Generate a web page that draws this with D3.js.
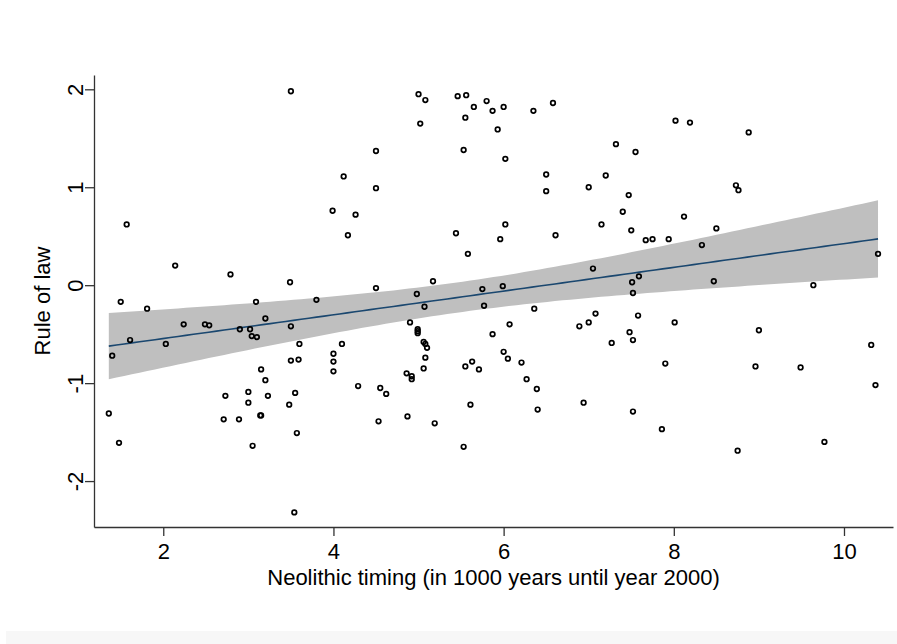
<!DOCTYPE html>
<html>
<head>
<meta charset="utf-8">
<script src="https://cdn.jsdelivr.net/npm/d3@7"></script>
<style>
  body { margin: 0; background: #fff; }
  svg text { font-family: "Liberation Sans", Arial, Helvetica, sans-serif; fill: #000; }
</style>
</head>
<body>
<svg id="chart"></svg>
<script>
// neolithic timing (1000 years before 2000) and rule of law
const neolithicTiming = [
  3.50, 1.57, 2.14, 2.79, 3.49, 5.00, 5.08, 5.46, 5.56, 5.65,
  5.80, 5.87, 6.00, 6.35, 6.58, 5.02, 5.55, 5.93, 4.50, 5.53,
  6.02, 4.12, 4.50, 6.50, 6.50, 3.99, 4.26, 4.17, 5.44, 6.02,
  5.96, 6.61, 5.58, 4.50, 5.17, 4.98, 5.75, 5.99, 8.02, 8.19,
  8.88, 7.32, 7.55, 7.20, 7.00, 7.47, 8.73, 8.76, 7.40, 7.15,
  7.50, 8.12, 8.50, 7.67, 7.75, 7.94, 8.33, 7.05, 7.59, 7.51,
  7.52, 8.47, 9.64, 10.40, 1.50, 1.81, 3.09, 3.80, 2.24, 2.49,
  2.54, 3.20, 3.50, 1.61, 2.03, 2.90, 3.02, 3.04, 3.10, 1.40,
  3.60, 3.50, 3.59, 3.15, 3.20, 2.73, 3.00, 3.00, 3.23, 3.55,
  3.48, 1.36, 2.71, 2.89, 3.14, 3.15, 1.48, 3.57, 3.05, 3.54,
  5.07, 5.77, 4.90, 4.99, 4.99, 4.99, 6.36, 6.07, 5.87, 5.06,
  5.08, 5.10, 5.08, 5.06, 4.10, 4.00, 4.00, 4.00, 6.00, 6.05,
  6.21, 5.63, 5.55, 5.71, 4.86, 4.92, 4.92, 6.27, 6.39, 6.40,
  4.29, 4.55, 4.62, 5.61, 4.53, 4.87, 5.19, 5.53, 7.08, 7.00,
  6.89, 7.58, 8.01, 7.48, 7.52, 7.27, 9.00, 7.90, 8.96, 9.49,
  10.32, 10.37, 6.94, 7.52, 7.86, 8.75, 9.77
];
const ruleOfLaw = [
  1.98, 0.62, 0.20, 0.11, 0.03, 1.95, 1.89, 1.93, 1.94, 1.82,
  1.88, 1.78, 1.82, 1.78, 1.86, 1.65, 1.71, 1.59, 1.37, 1.38,
  1.29, 1.11, 0.99, 1.13, 0.96, 0.76, 0.72, 0.51, 0.53, 0.62,
  0.47, 0.51, 0.32, -0.03, 0.04, -0.09, -0.04, -0.01, 1.68, 1.66,
  1.56, 1.44, 1.36, 1.12, 1.00, 0.92, 1.02, 0.97, 0.75, 0.62,
  0.56, 0.70, 0.58, 0.46, 0.47, 0.47, 0.41, 0.17, 0.09, 0.03,
  -0.08, 0.04, 0.00, 0.32, -0.17, -0.24, -0.17, -0.15, -0.40, -0.40,
  -0.41, -0.34, -0.42, -0.56, -0.60, -0.45, -0.45, -0.52, -0.53, -0.72,
  -0.60, -0.77, -0.76, -0.86, -0.97, -1.13, -1.09, -1.20, -1.13, -1.10,
  -1.22, -1.31, -1.37, -1.37, -1.33, -1.33, -1.61, -1.51, -1.64, -2.32,
  -0.22, -0.21, -0.38, -0.45, -0.47, -0.49, -0.24, -0.40, -0.50, -0.58,
  -0.60, -0.64, -0.74, -0.85, -0.60, -0.70, -0.78, -0.88, -0.68, -0.75,
  -0.79, -0.78, -0.83, -0.86, -0.90, -0.93, -0.96, -0.96, -1.06, -1.27,
  -1.03, -1.05, -1.11, -1.22, -1.39, -1.34, -1.41, -1.65, -0.29, -0.38,
  -0.42, -0.31, -0.38, -0.48, -0.56, -0.59, -0.46, -0.80, -0.83, -0.84,
  -0.61, -1.02, -1.20, -1.29, -1.47, -1.69, -1.60
];
const xTicks = [2, 4, 6, 8, 10];
const yTicks = [-2, -1, 0, 1, 2];
const xTitle = 'Neolithic timing (in 1000 years until year 2000)';
const yTitle = 'Rule of law';

const width = 897, height = 644;
const plot = { left: 94, right: 893, top: 75, bottom: 527 };

const svg = d3.select('#chart').attr('width', width).attr('height', height);
svg.append('rect').attr('width', width).attr('height', height).attr('fill', '#fff');
svg.append('rect').attr('x', 6).attr('y', 631).attr('width', width - 6).attr('height', height - 631)
  .attr('fill', '#f7f7f7');

const x = d3.scaleLinear().domain([1.186, 10.576]).range([plot.left, plot.right]);
const y = d3.scaleLinear().domain([-2.469, 2.146]).range([plot.bottom, plot.top]);

const data = neolithicTiming.map((d, i) => ({ x: d, y: ruleOfLaw[i] }));

// linear fit with 95% CI of the mean (like Stata lfitci)
const n = data.length;
const xm = d3.mean(data, d => d.x), ym = d3.mean(data, d => d.y);
const sxx = d3.sum(data, d => (d.x - xm) * (d.x - xm));
const sxy = d3.sum(data, d => (d.x - xm) * (d.y - ym));
const b = sxy / sxx, a = ym - b * xm;
const s2 = d3.sum(data, d => Math.pow(d.y - a - b * d.x, 2)) / (n - 2);
const tq = 1.975;
const [x0, x1] = d3.extent(data, d => d.x);
const grid = d3.range(0, 101).map(i => x0 + (x1 - x0) * i / 100);
const fit = grid.map(g => {
  const yh = a + b * g;
  const se = Math.sqrt(s2 * (1 / n + (g - xm) * (g - xm) / sxx));
  return { x: g, y: yh, lo: yh - tq * se, hi: yh + tq * se };
});

svg.append('path').datum(fit)
  .attr('d', d3.area().x(d => x(d.x)).y0(d => y(d.lo)).y1(d => y(d.hi)))
  .attr('fill', '#bfbfbf');
svg.append('path').datum(fit)
  .attr('d', d3.line().x(d => x(d.x)).y(d => y(d.y)))
  .attr('fill', 'none').attr('stroke', '#1a476f').attr('stroke-width', 1.6);

svg.append('g').selectAll('circle').data(data).enter().append('circle')
  .attr('cx', d => x(d.x)).attr('cy', d => y(d.y)).attr('r', 2.3)
  .attr('fill', 'none').attr('stroke', '#000').attr('stroke-width', 1.7);

// axes
const xAxis = svg.append('g').attr('transform', 'translate(0,' + plot.bottom + ')')
  .call(d3.axisBottom(x).tickValues(xTicks).tickFormat(d => String(d))
    .tickSize(9).tickSizeOuter(0));
const yAxis = svg.append('g').attr('transform', 'translate(' + plot.left + ',0)')
  .call(d3.axisLeft(y).tickValues(yTicks).tickFormat(d => String(d))
    .tickSize(9).tickSizeOuter(0));
[xAxis, yAxis].forEach(g => {
  g.select('.domain').attr('stroke', '#333').attr('stroke-width', 1.3);
  g.selectAll('.tick line').attr('stroke', '#333').attr('stroke-width', 1.3);
  g.selectAll('text').attr('font-size', 22).attr('font-family', null);
});
xAxis.selectAll('text').attr('dy', null).attr('y', 32);
yAxis.selectAll('text')
  .attr('x', null).attr('dy', null).attr('text-anchor', 'middle')
  .attr('transform', 'translate(-11,0) rotate(-90)');

svg.append('text').attr('x', (plot.left + plot.right) / 2).attr('y', 585)
  .attr('text-anchor', 'middle').attr('font-size', 22).text(xTitle);
svg.append('text').attr('transform', 'translate(50,' + (plot.top + plot.bottom) / 2 + ') rotate(-90)')
  .attr('text-anchor', 'middle').attr('font-size', 22).text(yTitle);
</script>
</body>
</html>
